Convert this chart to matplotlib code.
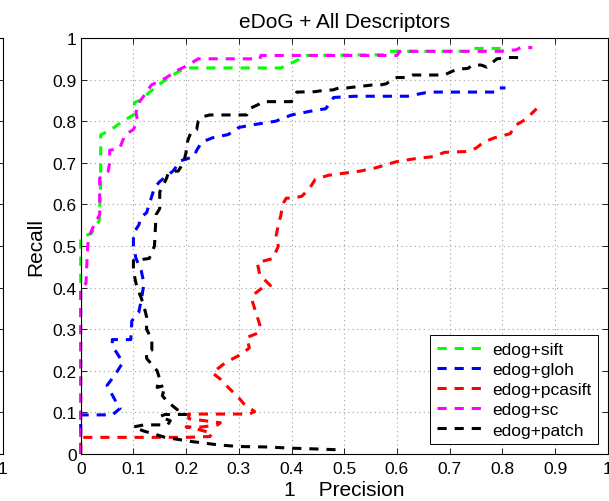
import matplotlib
matplotlib.use('Agg')
import matplotlib.pyplot as plt

plt.rcParams['font.family'] = ['Liberation Sans', 'DejaVu Sans']

# curve values: x = 1 - precision, y = recall
sift_x = [0, 0, 0.02, 0.035, 0.038, 0.038, 0.058, 0.08, 0.1, 0.102, 0.112, 0.128, 0.147,
          0.166, 0.185, 0.204, 0.38, 0.40, 0.43, 0.58, 0.585, 0.74, 0.745, 0.80]
sift_y = [0.0, 0.52, 0.53, 0.56, 0.65, 0.767, 0.78, 0.80, 0.815, 0.845, 0.85, 0.867, 0.887,
          0.903, 0.919, 0.928, 0.928, 0.94, 0.958, 0.96, 0.968, 0.968, 0.975, 0.975]

gloh_x = [0, 0, 0.06, 0.075, 0.065, 0.05, 0.065, 0.08, 0.06, 0.06, 0.095, 0.097, 0.11,
          0.115, 0.12, 0.115, 0.105, 0.10, 0.10, 0.11, 0.115, 0.125, 0.13, 0.135, 0.14,
          0.15, 0.16, 0.175, 0.19, 0.215, 0.22, 0.23, 0.25, 0.28, 0.30, 0.33, 0.37, 0.40,
          0.44, 0.465, 0.48, 0.52, 0.62, 0.66, 0.785, 0.79, 0.806]
gloh_y = [0.05, 0.094, 0.094, 0.11, 0.13, 0.165, 0.19, 0.22, 0.26, 0.275, 0.275, 0.32, 0.34,
          0.37, 0.41, 0.44, 0.47, 0.50, 0.53, 0.55, 0.57, 0.58, 0.60, 0.62, 0.64,
          0.655, 0.665, 0.68, 0.705, 0.715, 0.73, 0.75, 0.76, 0.768, 0.785, 0.792, 0.80, 0.815,
          0.825, 0.83, 0.857, 0.86, 0.86, 0.87, 0.87, 0.88, 0.88]

pcasift_x = [0, 0, 0.20, 0.245, 0.25, 0.22, 0.20, 0.23, 0.26, 0.265, 0.205, 0.205, 0.32,
             0.33, 0.31, 0.30, 0.28, 0.265, 0.25, 0.27, 0.29, 0.305, 0.32, 0.315, 0.335,
             0.34, 0.335, 0.33, 0.325, 0.33, 0.345, 0.36, 0.34, 0.335, 0.365, 0.375, 0.37,
             0.375, 0.38, 0.383, 0.39, 0.405, 0.42, 0.435, 0.445, 0.47, 0.50, 0.53, 0.56,
             0.60, 0.635, 0.67, 0.69, 0.73, 0.75, 0.765, 0.785, 0.815, 0.825, 0.845, 0.865]
pcasift_y = [0.005, 0.04, 0.04, 0.042, 0.05, 0.06, 0.065, 0.065, 0.07, 0.075, 0.085, 0.096, 0.096,
             0.102, 0.12, 0.135, 0.16, 0.18, 0.195, 0.215, 0.23, 0.24, 0.255, 0.28, 0.29,
             0.31, 0.33, 0.35, 0.37, 0.385, 0.40, 0.405, 0.43, 0.46, 0.47, 0.50, 0.52,
             0.55, 0.575, 0.60, 0.615, 0.615, 0.62, 0.64, 0.66, 0.67, 0.675, 0.68, 0.688,
             0.703, 0.71, 0.715, 0.725, 0.727, 0.735, 0.75, 0.76, 0.77, 0.79, 0.805, 0.83]

sc_x = [0, 0, 0.01, 0.013, 0.015, 0.025, 0.036, 0.036, 0.052, 0.055, 0.055, 0.074, 0.084,
        0.10, 0.108, 0.105, 0.108, 0.121, 0.134, 0.16, 0.185, 0.204, 0.223, 0.34, 0.342,
        0.60, 0.605, 0.80, 0.81, 0.825, 0.835, 0.857]
sc_y = [0.0, 0.40, 0.41, 0.495, 0.52, 0.55, 0.575, 0.663, 0.679, 0.70, 0.73, 0.735, 0.767,
        0.78, 0.80, 0.82, 0.84, 0.863, 0.887, 0.903, 0.923, 0.935, 0.95, 0.95, 0.958,
        0.958, 0.968, 0.968, 0.971, 0.971, 0.977, 0.977]

patch_x = [0.83, 0.81, 0.79, 0.78, 0.77, 0.76, 0.743, 0.735, 0.715, 0.705, 0.69, 0.648,
           0.63, 0.62, 0.60, 0.59, 0.58, 0.568, 0.553, 0.505, 0.49, 0.478, 0.465, 0.445,
           0.41, 0.40, 0.346, 0.337, 0.32, 0.315, 0.30, 0.245, 0.229, 0.223, 0.22, 0.21,
           0.205, 0.20, 0.2, 0.195, 0.185, 0.18, 0.166, 0.163, 0.157, 0.15, 0.15, 0.143,
           0.14, 0.13, 0.10, 0.10, 0.105, 0.11, 0.115, 0.12, 0.125, 0.125, 0.135, 0.135,
           0.125, 0.125, 0.145, 0.15, 0.145, 0.16, 0.155, 0.165, 0.18, 0.19, 0.20, 0.16,
           0.15, 0.17, 0.165, 0.12, 0.10, 0.12, 0.14, 0.16, 0.185, 0.21, 0.23, 0.26, 0.30,
           0.35, 0.40, 0.45, 0.49]
patch_y = [0.953, 0.953, 0.95, 0.94, 0.93, 0.935, 0.935, 0.927, 0.925, 0.92, 0.911, 0.911,
           0.911, 0.905, 0.905, 0.90, 0.89, 0.887, 0.887, 0.88, 0.88, 0.875, 0.875, 0.871,
           0.87, 0.847, 0.847, 0.84, 0.83, 0.815, 0.815, 0.815, 0.81, 0.80, 0.78, 0.775,
           0.76, 0.74, 0.725, 0.70, 0.68, 0.68, 0.675, 0.663, 0.647, 0.63, 0.59, 0.575,
           0.50, 0.47, 0.465, 0.44, 0.41, 0.39, 0.375, 0.355, 0.33, 0.30, 0.275, 0.25,
           0.245, 0.23, 0.20, 0.18, 0.16, 0.165, 0.14, 0.125, 0.11, 0.10, 0.095, 0.095,
           0.09, 0.08, 0.07, 0.07, 0.065, 0.055, 0.048, 0.04, 0.035, 0.03, 0.027, 0.022, 0.018,
           0.017, 0.014, 0.012, 0.01]

series = [
    ('edog+sift', sift_x, sift_y, '#00ff00'),
    ('edog+gloh', gloh_x, gloh_y, '#0000ff'),
    ('edog+pcasift', pcasift_x, pcasift_y, '#ff0000'),
    ('edog+sc', sc_x, sc_y, '#ff00ff'),
    ('edog+patch', patch_x, patch_y, '#000000'),
]

ticks = [0, 0.1, 0.2, 0.3, 0.4, 0.5, 0.6, 0.7, 0.8, 0.9, 1]
tick_labels = ['0', '0.1', '0.2', '0.3', '0.4', '0.5', '0.6', '0.7', '0.8', '0.9', '1']

fig = plt.figure(figsize=(6.09, 5.02), dpi=100)

left, right = 80.7 / 609, 607.7 / 609
bottom, top = (502 - 455) / 502, (502 - 39) / 502
w, h = right - left, top - bottom


def style_axes(ax, xlabels, ylabels):
    ax.set_xlim(0, 1)
    ax.set_ylim(0, 1)
    ax.set_xticks(ticks)
    ax.set_yticks(ticks)
    ax.set_xticklabels(xlabels)
    ax.set_yticklabels(ylabels)
    ax.tick_params(direction='in', length=4.5, width=0.6, top=True, right=True,
                   labelsize=12.5, pad=5, colors='black')
    ax.tick_params(axis='y', pad=3)
    for s in ax.spines.values():
        s.set_linewidth(0.8)
    ax.grid(True, color='#a0a0a0', linestyle=(0, (1, 3)), linewidth=0.8)
    ax.set_axisbelow(True)


# partially visible neighbour plot on the left edge (only its last x label shows)
ax0 = fig.add_axes([2.5 / 609 - w, bottom, w, h])
style_axes(ax0, [''] * 10 + ['1'], [''] * 11)

ax = fig.add_axes([left, bottom, w, h])
style_axes(ax, tick_labels, tick_labels)

for name, xs, ys, col in series:
    ln, = ax.plot(xs, ys, color=col, linewidth=2.2, label=name, clip_on=False)
    ln.set_dashes((3.0, 2.6))

ax.set_title('eDoG + All Descriptors', fontsize=15, pad=8)
ax.set_xlabel('1    Precision', fontsize=15, labelpad=3)
ax.set_ylabel('Recall', fontsize=15, labelpad=5)

leg = ax.legend(loc='lower right', fontsize=12.5, handlelength=2.8, handletextpad=0.35,
                labelspacing=0.28, borderaxespad=0.55, borderpad=0.4, fancybox=False,
                framealpha=1, edgecolor='black')
leg.get_frame().set_linewidth(0.7)

fig.savefig('out.png', dpi=100)
